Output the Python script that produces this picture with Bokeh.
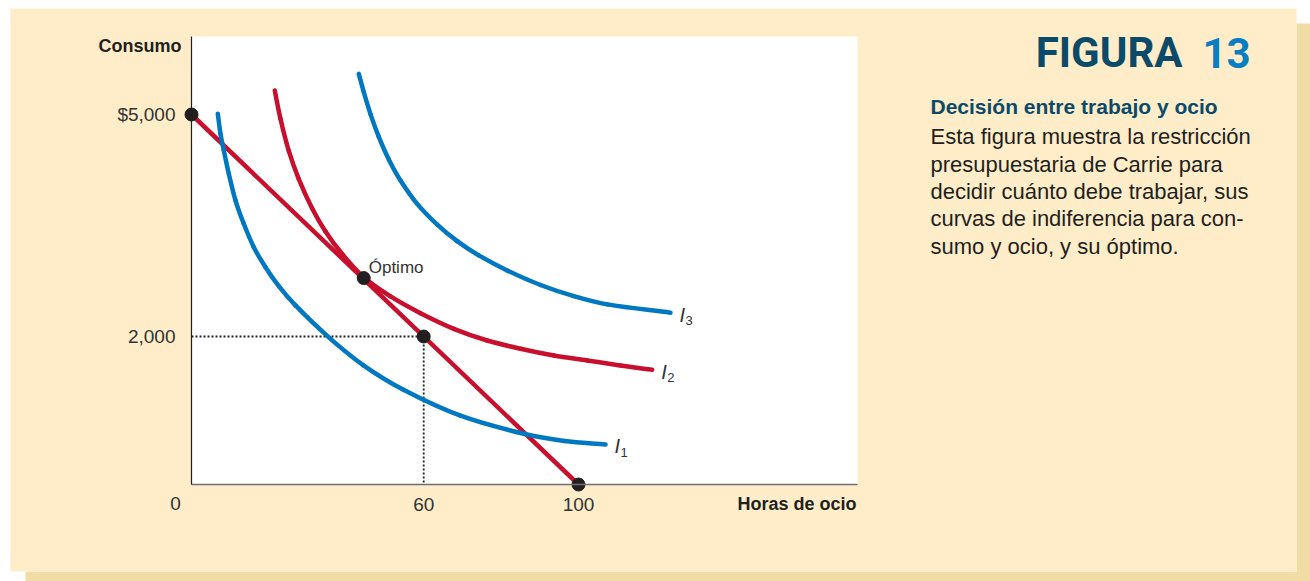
import math
from bokeh.plotting import figure
from bokeh.models import Range1d, FixedTicker, Label, BoxAnnotation
from bokeh.embed import file_html
from bokeh.resources import INLINE

# ---------------- data ----------------
budget_x = [0, 100]
budget_y = [5000, 0]

I1_x = [6.80, 7.49, 8.35, 9.64, 11.37, 13.51, 16.10, 19.12, 22.56, 26.87, 35.48, 44.44, 54.65, 69.51, 85.87, 96.38, 106.98]
I1_y = [5009, 4739, 4514, 4199, 3838, 3523, 3207, 2936, 2680, 2420, 1989, 1611, 1284, 930, 685, 588, 541]

I2_x = [21.52, 22.99, 25.14, 27.73, 31.19, 34.63, 38.94, 44.52, 51.42, 59.17, 67.78, 76.41, 85.01, 93.62, 102.25, 110.85, 119.04]
I2_y = [5324, 4942, 4508, 4127, 3730, 3419, 3114, 2800, 2541, 2315, 2104, 1946, 1834, 1743, 1676, 1608, 1550]

I3_x = [43.23, 44.52, 46.25, 48.40, 50.98, 54.01, 58.32, 63.49, 68.66, 74.24, 81.58, 90.18, 98.79, 107.42, 123.77]
I3_y = [5550, 5301, 5005, 4697, 4393, 4108, 3792, 3512, 3289, 3096, 2892, 2696, 2546, 2434, 2322]

dots_x = [0, 44.5, 60, 100]
dots_y = [5000, 2790, 2000, 0]

guide_h_x = [0, 60]
guide_h_y = [2000, 2000]
guide_v_x = [60, 60]
guide_v_y = [2000, 0]

x_ticks = [60, 100]
x_labels = ["60", "100"]
y_ticks = [2000, 5000]
y_labels = ["2,000", "$5,000"]
x_max = 172.1
y_max = 6054

curve_names = ["1", "2", "3"]

title_word = "FIGURA"
title_num = "13"
heading = "Decisión entre trabajo y ocio"
body_lines = [
    "Esta figura muestra la restricción",
    "presupuestaria de Carrie para",
    "decidir cuánto debe trabajar, sus",
    "curvas de indiferencia para con-",
    "sumo y ocio, y su óptimo.",
]

# ---------------- style / layout ----------------
FONT = "Liberation Sans"
TITLE_FONT = "Roboto"
CREAM = "#FEEDC8"
SHADOW = "#F2DCA6"
BLUE = "#0078C1"
RED = "#C8102E"
DARK = "#231F20"
GREY = "#333333"
TEAL = "#0B4A68"
BLUE2 = "#0A7EC2"

W, H = 1310, 581
SX, SY = 3.87, 0.074   # pixels per data unit


# page pixel -> data coordinate helpers (plot area: x 191..857, y 36..484)
def X(px):
    return (px - 191) / SX


def Y(py):
    return (484 - py) / SY


def smooth_segments(xs, ys):
    """Cubic Bezier segments through the given points (chordal Catmull-Rom)."""
    u = [x * SX for x in xs]
    v = [y * SY for y in ys]
    n = len(u)
    t = [0.0]
    for i in range(1, n):
        t.append(t[-1] + math.hypot(u[i] - u[i - 1], v[i] - v[i - 1]))
    mu, mv = [], []
    for i in range(n):
        a, b = max(i - 1, 0), min(i + 1, n - 1)
        dt = t[b] - t[a]
        mu.append((u[b] - u[a]) / dt)
        mv.append((v[b] - v[a]) / dt)
    seg = dict(x0=[], y0=[], x1=[], y1=[], cx0=[], cy0=[], cx1=[], cy1=[])
    for i in range(n - 1):
        h = (t[i + 1] - t[i]) / 3
        seg["x0"].append(xs[i]); seg["y0"].append(ys[i])
        seg["x1"].append(xs[i + 1]); seg["y1"].append(ys[i + 1])
        seg["cx0"].append((u[i] + mu[i] * h) / SX)
        seg["cy0"].append((v[i] + mv[i] * h) / SY)
        seg["cx1"].append((u[i + 1] - mu[i + 1] * h) / SX)
        seg["cy1"].append((v[i + 1] - mv[i + 1] * h) / SY)
    return seg


p = figure(width=W, height=H,
           x_range=Range1d(X(0), X(W)), y_range=Range1d(Y(H), Y(0)),
           output_backend="svg", toolbar_location=None,
           min_border_left=0, min_border_right=0,
           min_border_top=0, min_border_bottom=0)
p.title.visible = False
p.border_fill_color = "white"
p.background_fill_color = "white"
p.outline_line_color = None
p.grid.visible = False

# panel background, shadow and white plot area
for l, r, t, b, c in [(X(1296), X(W), Y(23), Y(H), SHADOW),
                      (X(25), X(W), Y(571), Y(H), SHADOW),
                      (X(10), X(1296), Y(8), Y(571), CREAM),
                      (0, x_max, y_max, 0, "white")]:
    p.add_layout(BoxAnnotation(left=l, right=r, top=t, bottom=b, fill_color=c,
                               fill_alpha=1, line_color=None, level="underlay"))

xa = p.xaxis[0]
xa.fixed_location = 0
xa.bounds = (0, x_max)
xa.ticker = FixedTicker(ticks=x_ticks)
xa.major_label_overrides = {t: l for t, l in zip(x_ticks, x_labels)}
xa.major_tick_line_color = None
xa.minor_tick_line_color = None
xa.axis_line_color = "#6D6E71"
xa.axis_line_width = 1.5
xa.major_label_text_font = FONT
xa.major_label_text_font_size = "19px"
xa.major_label_text_color = GREY
xa.major_label_standoff = 7

ya = p.yaxis[0]
ya.fixed_location = 0
ya.bounds = (0, y_max)
ya.ticker = FixedTicker(ticks=y_ticks)
ya.major_label_overrides = {t: l for t, l in zip(y_ticks, y_labels)}
ya.major_tick_line_color = None
ya.minor_tick_line_color = None
ya.axis_line_color = DARK
ya.axis_line_width = 1.2
ya.major_label_text_font = FONT
ya.major_label_text_font_size = "19px"
ya.major_label_text_color = GREY
ya.major_label_standoff = 10

# guides
p.line(guide_h_x, guide_h_y, line_color=DARK, line_width=1.8, line_dash="2 2")
p.line(guide_v_x, guide_v_y, line_color=DARK, line_width=1.8, line_dash="2 2")

# budget line and indifference curves (smooth curves through the read points)
p.line(budget_x, budget_y, line_color=RED, line_width=4.5)
for cx, cy, col in [(I1_x, I1_y, BLUE), (I2_x, I2_y, RED), (I3_x, I3_y, BLUE)]:
    p.bezier(**smooth_segments(cx, cy), line_color=col, line_width=4.5,
             line_cap="round")

p.scatter(dots_x, dots_y, size=13, fill_color=DARK, line_color=DARK)

# curve labels
for name, cx, cy in zip(curve_names, [I1_x, I2_x, I3_x], [I1_y, I2_y, I3_y]):
    p.add_layout(Label(x=cx[-1], y=cy[-1], x_offset=9, y_offset=-2, text="I",
                       text_font=FONT, text_font_size="20px", text_font_style="italic",
                       text_color=GREY, text_align="left", text_baseline="middle"))
    p.add_layout(Label(x=cx[-1], y=cy[-1], x_offset=15, y_offset=-8, text=name,
                       text_font=FONT, text_font_size="13px",
                       text_color=GREY, text_align="left", text_baseline="middle"))

# Optimo label
p.add_layout(Label(x=dots_x[1], y=dots_y[1], x_offset=5, y_offset=11, text="Óptimo",
                   text_font=FONT, text_font_size="17px", text_color=GREY,
                   text_align="left", text_baseline="middle"))


def tlabel(px, py, text, size, color=DARK, style="normal", align="left",
           baseline="middle", font=FONT):
    p.add_layout(Label(x=X(px), y=Y(py), text=text,
                       text_font=font, text_font_size=size, text_font_style=style,
                       text_color=color, text_align=align, text_baseline=baseline))


# axis titles and origin
tlabel(181, 45, "Consumo", "18px", style="bold", align="right")
tlabel(856, 503, "Horas de ocio", "18px", style="bold", align="right")
tlabel(175, 503, "0", "19px", color=GREY, align="center")

# side panel
tlabel(1182, 52, title_word, "42px", color=TEAL, style="bold", align="right",
       font=TITLE_FONT)
tlabel(1202, 52, title_num, "42px", color=BLUE2, style="bold", align="left",
       font=TITLE_FONT)
tlabel(930, 106, heading, "21px", color=TEAL, style="bold")
for i, line in enumerate(body_lines):
    tlabel(930, 136.3 + 27.3 * i, line, "22px")

open("out.html", "w").write(file_html(p, INLINE))
